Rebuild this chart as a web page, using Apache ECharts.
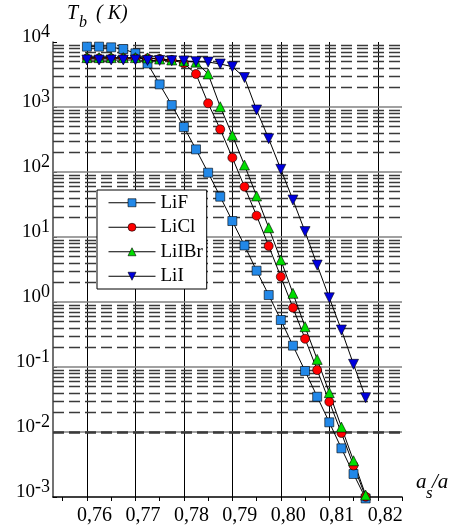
<!DOCTYPE html>
<html>
<head>
<meta charset="utf-8">
<script src="https://cdn.jsdelivr.net/npm/echarts@6/dist/echarts.min.js"></script>
<style>
  html, body { margin: 0; padding: 0; background: #fff; }
  #chart { width: 469px; height: 532px; }
</style>
</head>
<body>
<div id="chart"></div>
<script>
// a_s/a positions of the computed points
const xValues = [0.76, 0.7625, 0.765, 0.7675, 0.77, 0.7725, 0.775, 0.7775, 0.78, 0.7825, 0.785, 0.7875,
  0.79, 0.7925, 0.795, 0.7975, 0.80, 0.8025, 0.805, 0.8075, 0.81, 0.8125, 0.815, 0.8175];

// T_b (K) for each salt
const liF = [8480, 8480, 8280, 7800, 6700, 4670, 2230, 1070, 492, 223, 97.5, 41.7,
  17.6, 7.4, 3.03, 1.28, 0.528, 0.213, 0.0868, 0.0349, 0.0141, 0.00561, 0.00226, 0.00095];
const liCl = [5600, 5600, 5600, 5600, 5600, 5600, 5500, 5300, 4700, 3220, 1140, 454,
  166, 59.4, 21.3, 7.28, 2.45, 0.817, 0.272, 0.0899, 0.0292, 0.00966, 0.00305, 0.00101];
const liIBr = [5750, 5750, 5750, 5750, 5750, 5700, 5470, 5290, 5100, 4900, 3230, 1010,
  367, 128, 42.8, 13.9, 4.43, 1.36, 0.417, 0.131, 0.0403, 0.0119, 0.00361, 0.00107];
const liI = [5280, 5280, 5280, 5280, 5280, 5200, 5200, 5150, 5100, 4980, 4920, 4590,
  4170, 2840, 900, 325, 110, 37.1, 12.1, 3.70, 1.16, 0.371, 0.110, 0.0337];

// axes
const xTickLabels = [0.76, 0.77, 0.78, 0.79, 0.80, 0.81, 0.82];
const xTickMarks = [0.755, 0.76, 0.765, 0.77, 0.775, 0.78, 0.785, 0.79, 0.795, 0.80, 0.805, 0.81, 0.815, 0.82, 0.825];
const yDecades = [0.01, 0.1, 1, 10, 100, 1000];
const yLowDecades = [0.001, 0.01, 0.1, 1, 10, 100, 1000];
const yMinorFactors = [2, 3, 4, 5, 6, 7, 8, 9];

const serif = 'Liberation Serif';

const gridLines = [];
xTickLabels.forEach(v => gridLines.push({ xAxis: v, lineStyle: { color: '#000', width: 1, type: 'solid' } }));
yDecades.forEach(v => gridLines.push({ yAxis: v, lineStyle: { color: '#808080', width: 1.6, type: 'solid' } }));
yLowDecades.forEach(d => yMinorFactors.forEach(f => gridLines.push({
  yAxis: d * f, lineStyle: { color: '#3a3a3a', width: 1.4, type: [11, 5] }
})));

const mk = (name, values, symbol, color, size, rotate) => ({
  name: name,
  type: 'line',
  data: xValues.map((x, i) => [x, values[i]]),
  symbol: symbol,
  symbolSize: size,
  symbolRotate: rotate,
  clip: false,
  z: 3,
  itemStyle: { color: color, borderColor: '#000', borderWidth: 0.6 },
  lineStyle: { color: '#000', width: 1 }
});

const italic = (text, x, y, size) => ({
  type: 'text', x: x, y: y,
  style: { text: text, fontFamily: serif, fontStyle: 'italic', fontSize: size, fill: '#000', verticalAlign: 'top' }
});

const chart = echarts.init(document.getElementById('chart'));
chart.setOption({
  animation: false,
  backgroundColor: '#fff',
  grid: { left: 53, right: 67, top: 42, bottom: 35 },
  legend: {
    z: 10,
    orient: 'vertical',
    left: 97,
    top: 190,
    padding: [3, 4, 3, 11],
    itemWidth: 47,
    itemHeight: 10,
    itemGap: 5,
    borderColor: '#000',
    borderWidth: 1,
    borderRadius: 0,
    backgroundColor: '#fff',
    lineStyle: { color: '#000', width: 1 },
    itemStyle: { borderColor: '#000', borderWidth: 0.6 },
    textStyle: { fontFamily: serif, fontSize: 19, color: '#000', lineHeight: 19.5 },
    data: ['LiF', 'LiCl', 'LiIBr', 'LiI']
  },
  xAxis: {
    type: 'value',
    min: 0.753,
    max: 0.825,
    axisLine: { show: true, lineStyle: { color: '#000', width: 1.5 } },
    axisTick: { show: true, customValues: xTickMarks, length: 4, lineStyle: { color: '#000' } },
    axisLabel: {
      customValues: xTickLabels,
      formatter: v => v.toFixed(2).replace('.', ','),
      fontFamily: serif,
      fontSize: 20,
      color: '#000',
      margin: 9,
      padding: [0, 0, 0, 15]
    },
    splitLine: { show: false }
  },
  yAxis: {
    type: 'log',
    logBase: 10,
    min: 0.001,
    max: 10000,
    splitNumber: 7,
    axisLine: { show: true, lineStyle: { color: '#444', width: 1.5 } },
    axisTick: { show: true, inside: true, length: 4, lineStyle: { color: '#000' } },
    axisLabel: {
      margin: 3,
      formatter: v => {
        const e = Math.round(Math.log10(v));
        return '{b|10}{e|' + (e < 0 ? '-' + (-e) : e) + '}';
      },
      rich: {
        b: { fontFamily: serif, fontSize: 19, lineHeight: 19, color: '#000', verticalAlign: 'bottom', padding: [0, 0, 5, 0] },
        e: { fontFamily: serif, fontSize: 18, lineHeight: 18, color: '#000', verticalAlign: 'bottom', padding: [0, 0, 10, 0] }
      }
    },
    splitLine: { show: false }
  },
  graphic: [
    italic('T', 67, 4, 20),
    italic('b', 79, 15, 16),
    italic('( K)', 96, 4, 20),
    italic('a', 416, 472, 21),
    italic('s', 426, 485, 17),
    italic('/a', 432, 472, 21)
  ],
  series: [
    {
      type: 'line',
      data: [[0.76, 1000]],
      showSymbol: false,
      silent: true,
      z: 1,
      lineStyle: { opacity: 0 },
      markLine: { z: 1, silent: true, symbol: 'none', label: { show: false }, animation: false, data: gridLines }
    },
    mk('LiF', liF, 'rect', '#2288e8', 9, 0),
    mk('LiCl', liCl, 'circle', '#ff0000', 9, 0),
    mk('LiIBr', liIBr, 'triangle', '#00dd00', 10, 0),
    mk('LiI', liI, 'triangle', '#0000dd', 10, 180)
  ]
});
</script>
</body>
</html>
